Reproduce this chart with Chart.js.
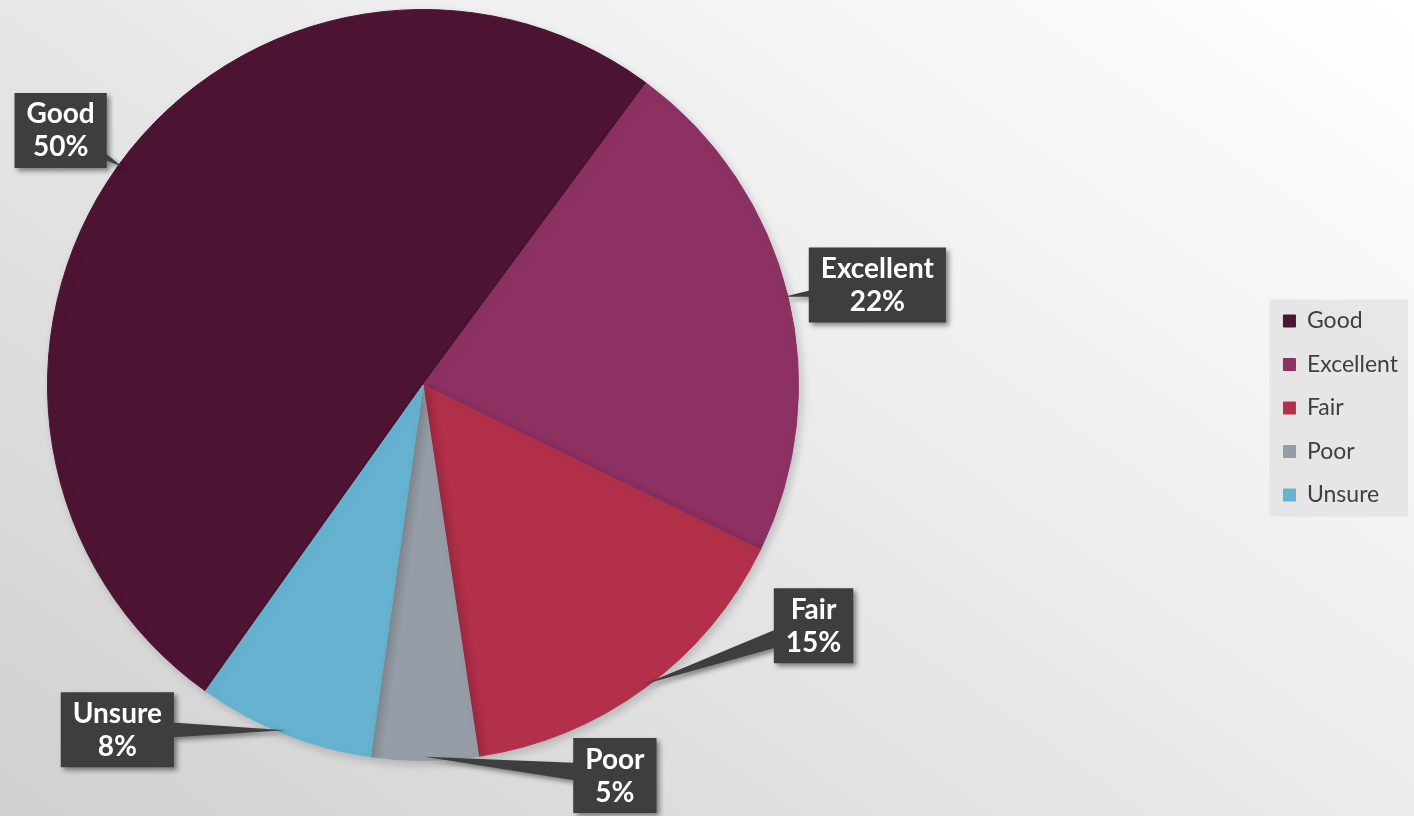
<!DOCTYPE html>
<html>
<head>
<meta charset="utf-8">
<style>
html, body { margin: 0; padding: 0; }
body {
  width: 1414px; height: 816px; overflow: hidden;
  background: linear-gradient(215deg, #ffffff 0%, #eeeeee 40%, #d0d0d0 100%);
}
#wrap { position: relative; width: 1414px; height: 816px; }
</style>
<script src="https://cdn.jsdelivr.net/npm/chart.js"></script>
</head>
<body>
<div id="wrap"><canvas id="chart"></canvas></div>
<script>
const categories = ['Good', 'Excellent', 'Fair', 'Poor', 'Unsure'];
const shares = [50.3, 22.1, 15.4, 4.6, 7.6];
const sliceColors = ['#4e1433', '#8d3163', '#b2304a', '#959da6', '#65b2d1'];

// where each callout box sits, in pie radii from the centre
const calloutOffsets = [[-0.965, -0.678], [1.21, -0.266], [1.04, 0.641], [0.511, 1.04], [-0.814, 0.918]];
// pie sits on the left, not centred in the free space
const pieBox = { left: 47, top: 9, size: 752 };

const pieArea = {
  id: 'pieArea',
  afterLayout(chart) {
    const a = chart.chartArea;
    a.left = pieBox.left;
    a.top = pieBox.top;
    a.right = pieBox.left + pieBox.size;
    a.bottom = pieBox.top + pieBox.size;
    a.width = pieBox.size;
    a.height = pieBox.size;
  }
};

const legendPanel = {
  id: 'legendPanel',
  beforeDraw(chart) {
    const boxes = chart.legend && chart.legend.legendHitBoxes;
    if (!boxes || !boxes.length) return;
    let l = Infinity, t = Infinity, r = -Infinity, b = -Infinity;
    boxes.forEach(h => {
      l = Math.min(l, h.left); t = Math.min(t, h.top);
      r = Math.max(r, h.left + h.width); b = Math.max(b, h.top + h.height);
    });
    const ctx = chart.ctx;
    ctx.save();
    ctx.fillStyle = 'rgba(228,228,228,0.9)';
    ctx.fillRect(l - 14, t - 10, r - l + 24, b - t + 20);
    ctx.restore();
  }
};

const sliceShadow = {
  id: 'sliceShadow',
  beforeDatasetsDraw(chart) {
    const ctx = chart.ctx;
    ctx.save();
    ctx.shadowColor = 'rgba(0,0,0,0.18)';
    ctx.shadowBlur = 10;
    ctx.shadowOffsetX = 3;
    ctx.shadowOffsetY = 4;
  },
  afterDatasetsDraw(chart) {
    chart.ctx.restore();
  }
};

const callouts = {
  id: 'callouts',
  afterDatasetsDraw(chart) {
    const ctx = chart.ctx;
    const meta = chart.getDatasetMeta(0);
    meta.data.forEach((arc, i) => {
      const p = arc.getProps(['x', 'y', 'startAngle', 'endAngle', 'outerRadius'], true);
      const mid = (p.startAngle + p.endAngle) / 2;
      const ax = p.x + Math.cos(mid) * p.outerRadius * 0.99;
      const ay = p.y + Math.sin(mid) * p.outerRadius * 0.99;
      const cx = p.x + calloutOffsets[i][0] * p.outerRadius;
      const cy = p.y + calloutOffsets[i][1] * p.outerRadius;
      const pct = Math.round(shares[i]) + '%';

      ctx.save();
      ctx.font = 'bold 28px Lato';
      const w = Math.max(ctx.measureText(categories[i]).width, ctx.measureText(pct).width) + 24;
      const h = 75;
      const ang = Math.atan2(ay - cy, ax - cx);
      const nx = -Math.sin(ang) * 11, ny = Math.cos(ang) * 11;
      let tri = [[cx + nx, cy + ny], [ax, ay], [cx - nx, cy - ny]];
      const area = (tri[1][0] - tri[0][0]) * (tri[2][1] - tri[0][1]) - (tri[2][0] - tri[0][0]) * (tri[1][1] - tri[0][1]);
      if (area < 0) tri = [tri[0], tri[2], tri[1]];

      ctx.shadowColor = 'rgba(0,0,0,0.45)';
      ctx.shadowBlur = 5;
      ctx.shadowOffsetX = 3;
      ctx.shadowOffsetY = 3;
      ctx.fillStyle = '#3e3e3e';
      ctx.beginPath();
      ctx.rect(cx - w / 2, cy - h / 2, w, h);
      ctx.moveTo(tri[0][0], tri[0][1]);
      ctx.lineTo(tri[1][0], tri[1][1]);
      ctx.lineTo(tri[2][0], tri[2][1]);
      ctx.closePath();
      ctx.fill('nonzero');

      ctx.shadowColor = 'transparent';
      ctx.fillStyle = '#ffffff';
      ctx.textAlign = 'center';
      ctx.textBaseline = 'middle';
      ctx.fillText(categories[i], cx, cy - 16);
      ctx.fillText(pct, cx, cy + 17);
      ctx.restore();
    });
  }
};

new Chart(document.getElementById('chart'), {
  type: 'pie',
  data: {
    labels: categories,
    datasets: [{
      data: shares,
      backgroundColor: sliceColors,
      borderColor: sliceColors,
      borderWidth: 1
    }]
  },
  options: {
    responsive: true,
    maintainAspectRatio: false,
    animation: false,
    rotation: 215.4,
    layout: { padding: { top: 0, bottom: 0, left: 0, right: 6 } },
    plugins: {
      tooltip: { enabled: false },
      legend: {
        position: 'right',
        labels: {
          boxWidth: 12,
          boxHeight: 12,
          padding: 20.5,
          color: '#404040',
          font: { family: 'Lato', size: 23 }
        }
      }
    }
  },
  plugins: [pieArea, legendPanel, sliceShadow, callouts]
});
</script>
</body>
</html>
